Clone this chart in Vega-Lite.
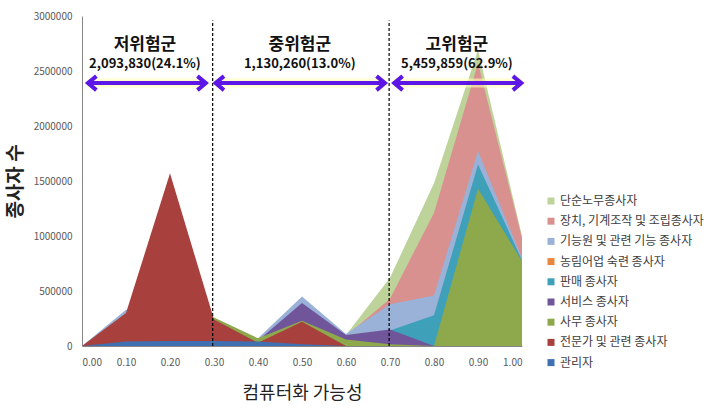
{
  "$schema": "https://vega.github.io/schema/vega-lite/v6.json",
  "width": 440,
  "height": 330,
  "autosize": {"type": "none"},
  "padding": {"left": 82, "top": 16, "right": 192, "bottom": 62},
  "background": "white",
  "config": {"view": {"stroke": null}, "font": "Noto Sans CJK KR"},
  "datasets": {
    "jobs": [
      {"p": 0.0, "s": "단순노무종사자", "v": 0},
      {"p": 0.1, "s": "단순노무종사자", "v": 0},
      {"p": 0.2, "s": "단순노무종사자", "v": 0},
      {"p": 0.3, "s": "단순노무종사자", "v": 0},
      {"p": 0.4, "s": "단순노무종사자", "v": 0},
      {"p": 0.5, "s": "단순노무종사자", "v": 0},
      {"p": 0.6, "s": "단순노무종사자", "v": 100000},
      {"p": 0.7, "s": "단순노무종사자", "v": 620000},
      {"p": 0.8, "s": "단순노무종사자", "v": 1480000},
      {"p": 0.9, "s": "단순노무종사자", "v": 2690000},
      {"p": 1.0, "s": "단순노무종사자", "v": 1000000},

      {"p": 0.0, "s": "장치, 기계조작 및 조립종사자", "v": 0},
      {"p": 0.1, "s": "장치, 기계조작 및 조립종사자", "v": 0},
      {"p": 0.2, "s": "장치, 기계조작 및 조립종사자", "v": 0},
      {"p": 0.3, "s": "장치, 기계조작 및 조립종사자", "v": 0},
      {"p": 0.4, "s": "장치, 기계조작 및 조립종사자", "v": 0},
      {"p": 0.5, "s": "장치, 기계조작 및 조립종사자", "v": 60000},
      {"p": 0.6, "s": "장치, 기계조작 및 조립종사자", "v": 90000},
      {"p": 0.7, "s": "장치, 기계조작 및 조립종사자", "v": 430000},
      {"p": 0.8, "s": "장치, 기계조작 및 조립종사자", "v": 1210000},
      {"p": 0.9, "s": "장치, 기계조작 및 조립종사자", "v": 2570000},
      {"p": 1.0, "s": "장치, 기계조작 및 조립종사자", "v": 980000},

      {"p": 0.0, "s": "기능원 및 관련 기능 종사자", "v": 0},
      {"p": 0.1, "s": "기능원 및 관련 기능 종사자", "v": 330000},
      {"p": 0.2, "s": "기능원 및 관련 기능 종사자", "v": 300000},
      {"p": 0.3, "s": "기능원 및 관련 기능 종사자", "v": 100000},
      {"p": 0.4, "s": "기능원 및 관련 기능 종사자", "v": 70000},
      {"p": 0.5, "s": "기능원 및 관련 기능 종사자", "v": 450000},
      {"p": 0.6, "s": "기능원 및 관련 기능 종사자", "v": 110000},
      {"p": 0.7, "s": "기능원 및 관련 기능 종사자", "v": 380000},
      {"p": 0.8, "s": "기능원 및 관련 기능 종사자", "v": 460000},
      {"p": 0.9, "s": "기능원 및 관련 기능 종사자", "v": 1770000},
      {"p": 1.0, "s": "기능원 및 관련 기능 종사자", "v": 800000},

      {"p": 0.0, "s": "농림어업 숙련 종사자", "v": 0},
      {"p": 0.1, "s": "농림어업 숙련 종사자", "v": 0},
      {"p": 0.2, "s": "농림어업 숙련 종사자", "v": 0},
      {"p": 0.3, "s": "농림어업 숙련 종사자", "v": 20000},
      {"p": 0.4, "s": "농림어업 숙련 종사자", "v": 60000},
      {"p": 0.5, "s": "농림어업 숙련 종사자", "v": 240000},
      {"p": 0.6, "s": "농림어업 숙련 종사자", "v": 20000},
      {"p": 0.7, "s": "농림어업 숙련 종사자", "v": 0},
      {"p": 0.8, "s": "농림어업 숙련 종사자", "v": 0},
      {"p": 0.9, "s": "농림어업 숙련 종사자", "v": 0},
      {"p": 1.0, "s": "농림어업 숙련 종사자", "v": 0},

      {"p": 0.0, "s": "판매 종사자", "v": 0},
      {"p": 0.1, "s": "판매 종사자", "v": 0},
      {"p": 0.2, "s": "판매 종사자", "v": 0},
      {"p": 0.3, "s": "판매 종사자", "v": 0},
      {"p": 0.4, "s": "판매 종사자", "v": 20000},
      {"p": 0.5, "s": "판매 종사자", "v": 50000},
      {"p": 0.6, "s": "판매 종사자", "v": 60000},
      {"p": 0.7, "s": "판매 종사자", "v": 140000},
      {"p": 0.8, "s": "판매 종사자", "v": 280000},
      {"p": 0.9, "s": "판매 종사자", "v": 1650000},
      {"p": 1.0, "s": "판매 종사자", "v": 780000},

      {"p": 0.0, "s": "서비스 종사자", "v": 0},
      {"p": 0.1, "s": "서비스 종사자", "v": 0},
      {"p": 0.2, "s": "서비스 종사자", "v": 0},
      {"p": 0.3, "s": "서비스 종사자", "v": 30000},
      {"p": 0.4, "s": "서비스 종사자", "v": 50000},
      {"p": 0.5, "s": "서비스 종사자", "v": 390000},
      {"p": 0.6, "s": "서비스 종사자", "v": 100000},
      {"p": 0.7, "s": "서비스 종사자", "v": 150000},
      {"p": 0.8, "s": "서비스 종사자", "v": 0},
      {"p": 0.9, "s": "서비스 종사자", "v": 0},
      {"p": 1.0, "s": "서비스 종사자", "v": 0},

      {"p": 0.0, "s": "사무 종사자", "v": 0},
      {"p": 0.1, "s": "사무 종사자", "v": 0},
      {"p": 0.2, "s": "사무 종사자", "v": 0},
      {"p": 0.3, "s": "사무 종사자", "v": 260000},
      {"p": 0.4, "s": "사무 종사자", "v": 70000},
      {"p": 0.5, "s": "사무 종사자", "v": 230000},
      {"p": 0.6, "s": "사무 종사자", "v": 60000},
      {"p": 0.7, "s": "사무 종사자", "v": 15000},
      {"p": 0.8, "s": "사무 종사자", "v": 0},
      {"p": 0.9, "s": "사무 종사자", "v": 1430000},
      {"p": 1.0, "s": "사무 종사자", "v": 770000},

      {"p": 0.0, "s": "전문가 및 관련 종사자", "v": 0},
      {"p": 0.1, "s": "전문가 및 관련 종사자", "v": 300000},
      {"p": 0.2, "s": "전문가 및 관련 종사자", "v": 1570000},
      {"p": 0.3, "s": "전문가 및 관련 종사자", "v": 240000},
      {"p": 0.4, "s": "전문가 및 관련 종사자", "v": 30000},
      {"p": 0.5, "s": "전문가 및 관련 종사자", "v": 220000},
      {"p": 0.6, "s": "전문가 및 관련 종사자", "v": 0},
      {"p": 0.7, "s": "전문가 및 관련 종사자", "v": 0},
      {"p": 0.8, "s": "전문가 및 관련 종사자", "v": 0},
      {"p": 0.9, "s": "전문가 및 관련 종사자", "v": 0},
      {"p": 1.0, "s": "전문가 및 관련 종사자", "v": 0},

      {"p": 0.0, "s": "관리자", "v": 0},
      {"p": 0.1, "s": "관리자", "v": 40000},
      {"p": 0.2, "s": "관리자", "v": 45000},
      {"p": 0.3, "s": "관리자", "v": 45000},
      {"p": 0.4, "s": "관리자", "v": 40000},
      {"p": 0.5, "s": "관리자", "v": 15000},
      {"p": 0.6, "s": "관리자", "v": 0},
      {"p": 0.7, "s": "관리자", "v": 0},
      {"p": 0.8, "s": "관리자", "v": 0},
      {"p": 0.9, "s": "관리자", "v": 0},
      {"p": 1.0, "s": "관리자", "v": 0}
    ],
    "dividers": [
      {"x": 0.297, "y0": 0, "y1": 2960000},
      {"x": 0.698, "y0": 0, "y1": 2960000}
    ],
    "arrows": [
      {"x1": 0.012, "x2": 0.283, "y": 2390000},
      {"x1": 0.302, "x2": 0.69, "y": 2390000},
      {"x1": 0.708, "x2": 1.0, "y": 2390000}
    ],
    "groups": [
      {"x": 0.143, "name": "저위험군", "count": "2,093,830(24.1%)", "yn": 2740000, "yc": 2560000},
      {"x": 0.495, "name": "중위험군", "count": "1,130,260(13.0%)", "yn": 2740000, "yc": 2560000},
      {"x": 0.852, "name": "고위험군", "count": "5,459,859(62.9%)", "yn": 2740000, "yc": 2560000}
    ]
  },
  "layer": [
    {
      "data": {"name": "jobs"},
      "mark": {"type": "area", "opacity": 1, "interpolate": "linear"},
      "encoding": {
        "x": {
          "field": "p", "type": "quantitative",
          "scale": {"domain": [0, 1], "nice": false, "zero": false},
          "axis": {
            "values": [0, 0.1, 0.2, 0.3, 0.4, 0.5, 0.6, 0.7, 0.8, 0.9, 1.0],
            "format": ".2f", "grid": false, "ticks": false,
            "domainColor": "#868686", "labelColor": "#595959", "labelFontSize": 10,
            "labelPadding": 11, "labelFont": "Noto Sans CJK KR",
            "title": "컴퓨터화 가능성", "titleFontSize": 18, "titleFontWeight": "normal",
            "titleColor": "#222222", "titleFont": "Noto Sans CJK KR",
            "titleBaseline": "middle", "titleY": 47
          }
        },
        "y": {
          "field": "v", "type": "quantitative", "stack": null,
          "scale": {"domain": [0, 3000000], "nice": false},
          "axis": {
            "values": [0, 500000, 1000000, 1500000, 2000000, 2500000, 3000000],
            "format": "d", "grid": false, "ticks": false,
            "domainColor": "#868686", "labelColor": "#595959", "labelFontSize": 10,
            "labelPadding": 10, "labelFont": "Noto Sans CJK KR",
            "title": "종사자 수", "titleFontSize": 19, "titleFontWeight": "bold",
            "titleColor": "#222222", "titleFont": "Noto Sans CJK KR",
            "titleAngle": -90, "titleAlign": "center", "titleBaseline": "middle",
            "titleX": -67, "titleY": 165
          }
        },
        "color": {
          "field": "s", "type": "nominal",
          "scale": {
            "domain": ["단순노무종사자", "장치, 기계조작 및 조립종사자", "기능원 및 관련 기능 종사자", "농림어업 숙련 종사자", "판매 종사자", "서비스 종사자", "사무 종사자", "전문가 및 관련 종사자", "관리자"],
            "range": ["#BDD39A", "#D9918F", "#9AB1D8", "#E8853E", "#3FA0B9", "#70559B", "#8DA94C", "#A8413E", "#3E70B2"]
          },
          "legend": {
            "orient": "none", "legendX": 463, "legendY": 179,
            "title": null, "symbolType": "square", "symbolSize": 49, "symbolStrokeWidth": 0,
            "labelFontSize": 12, "labelColor": "#404040", "labelFont": "Noto Sans CJK KR",
            "labelLimit": 300, "rowPadding": 8.2, "labelOffset": 3
          }
        }
      }
    },
    {
      "data": {"name": "dividers"},
      "mark": {"type": "rule", "color": "#000000", "strokeWidth": 1.2, "strokeDash": [3, 2]},
      "encoding": {
        "x": {"field": "x", "type": "quantitative"},
        "y": {"field": "y0", "type": "quantitative"},
        "y2": {"field": "y1"}
      }
    },
    {
      "data": {"name": "arrows"},
      "mark": {"type": "rule", "color": "#FFFFB0", "strokeWidth": 9, "opacity": 0.6},
      "encoding": {
        "x": {"field": "x1", "type": "quantitative"},
        "x2": {"field": "x2"},
        "y": {"field": "y", "type": "quantitative"}
      }
    },
    {
      "data": {"name": "arrows"},
      "mark": {"type": "rule", "color": "#5C16E6", "strokeWidth": 4},
      "encoding": {
        "x": {"field": "x1", "type": "quantitative"},
        "x2": {"field": "x2"},
        "y": {"field": "y", "type": "quantitative"}
      }
    },
    {
      "data": {"name": "arrows"},
      "mark": {"type": "point", "shape": "M1.3,-1 L0.1,0 L1.3,1", "filled": false, "size": 196, "stroke": "#5C16E6", "strokeWidth": 4, "opacity": 1, "strokeJoin": "miter", "strokeCap": "butt"},
      "encoding": {
        "x": {"field": "x1", "type": "quantitative"},
        "y": {"field": "y", "type": "quantitative"}
      }
    },
    {
      "data": {"name": "arrows"},
      "mark": {"type": "point", "shape": "M-1.3,-1 L-0.1,0 L-1.3,1", "filled": false, "size": 196, "stroke": "#5C16E6", "strokeWidth": 4, "opacity": 1, "strokeJoin": "miter", "strokeCap": "butt"},
      "encoding": {
        "x": {"field": "x2", "type": "quantitative"},
        "y": {"field": "y", "type": "quantitative"}
      }
    },
    {
      "data": {"name": "groups"},
      "mark": {"type": "text", "fontSize": 17, "fontWeight": "bold", "color": "#111111", "baseline": "middle", "align": "center", "font": "Noto Sans CJK KR"},
      "encoding": {
        "x": {"field": "x", "type": "quantitative"},
        "y": {"field": "yn", "type": "quantitative"},
        "text": {"field": "name"}
      }
    },
    {
      "data": {"name": "groups"},
      "mark": {"type": "text", "fontSize": 13, "fontWeight": "bold", "color": "#111111", "baseline": "middle", "align": "center", "font": "Noto Sans CJK KR"},
      "encoding": {
        "x": {"field": "x", "type": "quantitative"},
        "y": {"field": "yc", "type": "quantitative"},
        "text": {"field": "count"}
      }
    }
  ]
}
